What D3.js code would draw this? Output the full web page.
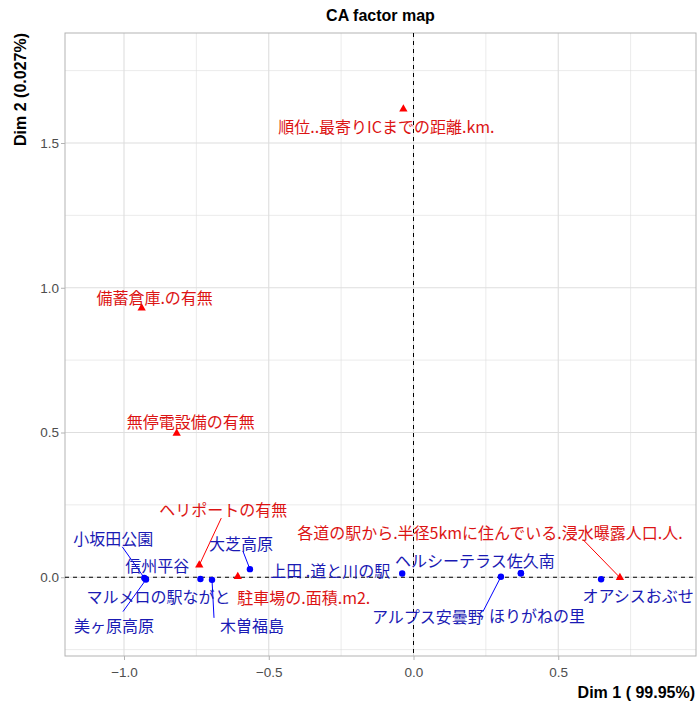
<!DOCTYPE html>
<html>
<head>
<meta charset="utf-8">
<script src="https://cdn.jsdelivr.net/npm/d3@7"></script>
<style>
  body { margin: 0; background: #fff; }
</style>
</head>
<body>
<div id="ca-map"></div>
<script>

// Row coordinates (blue points)
const rowNames = ["小坂田公園", "信州平谷", "美ヶ原高原", "マルメロの駅ながと", "木曽福島",
  "大芝高原", "上田 .道と川の駅", "ヘルシーテラス佐久南", "アルプス安曇野", "ほりがねの里", "オアシスおぶせ"]
const rowDim1 = [-0.930, -0.927, -0.924, -0.736, -0.696, -0.565, -0.039, 0.371, 0.302, 0.371, 0.648]
const rowDim2 = [-0.002, -0.005, -0.008, -0.006, -0.009, 0.028, 0.013, 0.014, 0.002, 0.014, -0.007]

// Column coordinates (red triangles)
const colNames = ["順位..最寄りICまでの距離.km.", "備蓄倉庫.の有無", "無停電設備の有無", "ヘリポートの有無",
  "駐車場の.面積.m2.", "各道の駅から.半径5kmに住んでいる.浸水曝露人口.人."]
const colDim1 = [-0.035, -0.939, -0.818, -0.740, -0.607, 0.713]
const colDim2 = [1.617, 0.930, 0.497, 0.042, 0.002, -0.001]

// Axis ticks
const xTicks = [-1.0, -0.5, 0.0, 0.5]
const yTicks = [0.0, 0.5, 1.0, 1.5]
const xMinor = [-0.75, -0.25, 0.25, 0.75]
const yMinor = [-0.25, 0.25, 0.75, 1.25, 1.75]

// label placement (px offsets from the point: label dx, dy, segment end sx, sy)
const labelNudge = {
  "小坂田公園": [-31, -40, -22, -31],
  "信州平谷": [12, -14],
  "美ヶ原高原": [-32, 45, -23, 32],
  "マルメロの駅ながと": [-42, 17],
  "木曽福島": [40, 45, 2, 38],
  "大芝高原": [-9, -26, -7, -18],
  "上田 .道と川の駅": [-72, -3],
  "ヘルシーテラス佐久南": [-46, -13],
  "アルプス安曇野": [-73, 39, -18, 35],
  "ほりがねの里": [16, 42],
  "オアシスおぶせ": [37, 16],
  "順位..最寄りICまでの距離.km.": [-17, 17],
  "備蓄倉庫.の有無": [13, -11],
  "無停電設備の有無": [14, -12],
  "ヘリポートの有無": [24, -56, 22, -47],
  "駐車場の.面積.m2.": [66, 20],
  "各道の駅から.半径5kmに住んでいる.浸水曝露人口.人.": [-130, -46, -37, -38]
}

const margin = {top: 33, right: 1, bottom: 50, left: 65},
    width = 697 - margin.left - margin.right,
    height = 706 - margin.top - margin.bottom;

const svgRoot = d3.select("#ca-map")
  .append("svg")
  .attr("width", 697)
  .attr("height", 706)
  .style("font-family", "'Liberation Sans', Arial, sans-serif");

svgRoot.append("rect").attr("width", 697).attr("height", 706).attr("fill", "#fff");

const svg = svgRoot.append("g")
  .attr("transform", `translate(${margin.left}, ${margin.top})`);

const x = d3.scaleLinear()
  .domain([-1.2038, 0.9758])
  .range([0, width]);

const y = d3.scaleLinear()
  .domain([-0.272, 1.880])
  .range([height, 0]);

// grid lines
svg.selectAll(".vminor").data(xMinor).join("line")
  .attr("x1", d => x(d)).attr("x2", d => x(d))
  .attr("y1", 0).attr("y2", height)
  .attr("stroke", "#dedede").attr("stroke-width", 0.6);
svg.selectAll(".hminor").data(yMinor).join("line")
  .attr("y1", d => y(d)).attr("y2", d => y(d))
  .attr("x1", 0).attr("x2", width)
  .attr("stroke", "#dedede").attr("stroke-width", 0.6);
svg.selectAll(".vmajor").data(xTicks).join("line")
  .attr("x1", d => x(d)).attr("x2", d => x(d))
  .attr("y1", 0).attr("y2", height)
  .attr("stroke", "#dedede").attr("stroke-width", 1.1);
svg.selectAll(".hmajor").data(yTicks).join("line")
  .attr("y1", d => y(d)).attr("y2", d => y(d))
  .attr("x1", 0).attr("x2", width)
  .attr("stroke", "#dedede").attr("stroke-width", 1.1);

// axes
const xAxis = svg.append("g")
  .attr("transform", `translate(0, ${height})`)
  .call(d3.axisBottom(x).tickValues(xTicks).tickFormat(d3.format(".1f")).tickSize(4).tickSizeOuter(0));
const yAxis = svg.append("g")
  .call(d3.axisLeft(y).tickValues(yTicks).tickFormat(d3.format(".1f")).tickSize(4).tickSizeOuter(0));

[xAxis, yAxis].forEach(a => {
  a.select(".domain").remove();
  a.selectAll(".tick line").attr("stroke", "#b3b3b3");
  a.selectAll(".tick text")
    .attr("fill", "#4d4d4d")
    .style("font-size", "13.5px")
    .style("font-family", "'Liberation Sans', Arial, sans-serif");
});
xAxis.selectAll(".tick text").attr("dy", "1.0em");
yAxis.selectAll(".tick text").attr("x", -6);

// panel border
svg.append("rect")
  .attr("width", width).attr("height", height)
  .attr("fill", "none").attr("stroke", "#b3b3b3").attr("stroke-width", 1);

// reference lines through the origin
svg.append("line")
  .attr("x1", x(0)).attr("x2", x(0)).attr("y1", 0).attr("y2", height)
  .attr("stroke", "#000").attr("stroke-dasharray", "4,4").attr("stroke-width", 1);
svg.append("line")
  .attr("y1", y(0)).attr("y2", y(0)).attr("x1", 0).attr("x2", width)
  .attr("stroke", "#000").attr("stroke-dasharray", "4,4").attr("stroke-width", 1);

const rows = rowNames.map((n, i) => ({name: n, d1: rowDim1[i], d2: rowDim2[i], col: "#0000ff", text: "#1a1ab4"}))
const cols = colNames.map((n, i) => ({name: n, d1: colDim1[i], d2: colDim2[i], col: "#ff0000", text: "#dc1414"}))

// label segments
const withSeg = rows.concat(cols).filter(d => labelNudge[d.name].length > 2)
svg.selectAll(".seg").data(withSeg).join("line")
  .attr("x1", d => x(d.d1)).attr("y1", d => y(d.d2))
  .attr("x2", d => x(d.d1) + labelNudge[d.name][2])
  .attr("y2", d => y(d.d2) + labelNudge[d.name][3])
  .attr("stroke", d => d.col).attr("stroke-width", 1);

// points
svg.selectAll(".rowpt").data(rows).join("circle")
  .attr("cx", d => x(d.d1)).attr("cy", d => y(d.d2))
  .attr("r", 3.2).attr("fill", "#0000ff");

svg.selectAll(".colpt").data(cols).join("path")
  .attr("d", d3.symbol().type(d3.symbolTriangle).size(30))
  .attr("transform", d => `translate(${x(d.d1)}, ${y(d.d2)})`)
  .attr("fill", "#ff0000");

// labels
svg.selectAll(".lab").data(rows.concat(cols)).join("text")
  .attr("x", d => x(d.d1) + labelNudge[d.name][0])
  .attr("y", d => y(d.d2) + labelNudge[d.name][1])
  .attr("text-anchor", "middle")
  .attr("dominant-baseline", "central")
  .attr("fill", d => d.text)
  .style("font-family", "'Noto Sans CJK JP', sans-serif")
  .style("font-size", "16px")
  .text(d => d.name);

// titles
svgRoot.append("text")
  .attr("x", margin.left + width / 2)
  .attr("y", 21)
  .attr("text-anchor", "middle")
  .style("font-size", "16px")
  .style("font-weight", "bold")
  .text("CA factor map");

svgRoot.append("text")
  .attr("x", 695)
  .attr("y", 698)
  .attr("text-anchor", "end")
  .style("font-size", "16px")
  .style("font-weight", "bold")
  .text("Dim 1 ( 99.95%)");

svgRoot.append("text")
  .attr("transform", "rotate(-90)")
  .attr("x", -margin.top)
  .attr("y", 26)
  .attr("text-anchor", "end")
  .style("font-size", "16px")
  .style("font-weight", "bold")
  .text("Dim 2 (0.027%)");

</script>
</body>
</html>
